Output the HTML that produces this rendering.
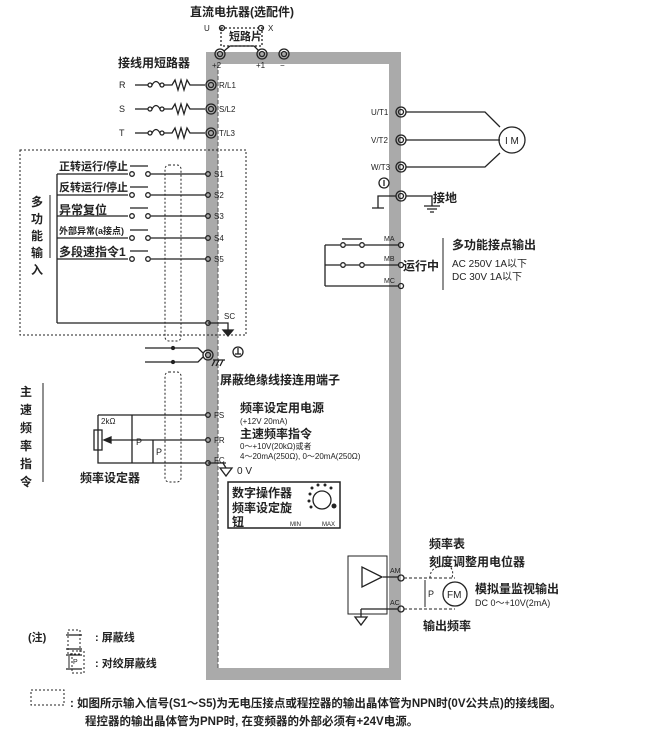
<!DOCTYPE html>
<html><head><meta charset="utf-8"><style>
body{margin:0;background:#fff}
svg{display:block}
text{font-family:"Liberation Sans","Noto Sans CJK SC",sans-serif;fill:#222}
.c{font-weight:bold}
</style></head><body>
<svg width="664" height="738" viewBox="0 0 664 738" xmlns="http://www.w3.org/2000/svg">
<g stroke="#222" fill="none" stroke-width="1.3">
<!-- frame -->
<rect x="212" y="58" width="183" height="616" stroke="#aaa" stroke-width="12"/>
<line x1="218" y1="64" x2="218" y2="668" stroke="#555" stroke-width="1" stroke-dasharray="4,2"/>
<!-- top terminals -->
<circle cx="220" cy="54" r="5"/><circle cx="220" cy="54" r="2.5"/>
<circle cx="262" cy="54" r="5"/><circle cx="262" cy="54" r="2.5"/>
<circle cx="284" cy="54" r="5"/><circle cx="284" cy="54" r="2.5"/>
<path d="M224 51 L230 46 L254 46 L259 51"/>
<rect x="221" y="28" width="41" height="18" stroke-dasharray="2,2"/>
<circle cx="222" cy="28" r="2.5"/><circle cx="261" cy="28" r="2.5"/>
<!-- R S T -->
<g id="rl">
<line x1="135" y1="85" x2="148" y2="85"/>
<circle cx="150" cy="85" r="2"/><path d="M152 85 Q156 78 160 85"/><circle cx="162" cy="85" r="2"/>
<path d="M164 85 L172 85 L175 80 L178 90 L181 80 L184 90 L187 80 L190 85 L205 85"/>
</g>
<use href="#rl" y="24"/><use href="#rl" y="48"/>
<circle cx="211" cy="85" r="5"/><circle cx="211" cy="85" r="2.5"/>
<circle cx="211" cy="109" r="5"/><circle cx="211" cy="109" r="2.5"/>
<circle cx="211" cy="133" r="5"/><circle cx="211" cy="133" r="2.5"/>
<!-- dashed input box -->
<rect x="20" y="150" width="226" height="185" stroke-dasharray="2,2" stroke-width="1"/>
<rect x="165" y="165" width="16" height="176" rx="4" stroke-dasharray="2,2" stroke-width="1"/>
<!-- S1..S5 -->
<line x1="57" y1="174" x2="57" y2="323"/>
<g id="sw">
<line x1="57" y1="174" x2="128" y2="174"/><circle cx="132" cy="174" r="2.3"/><circle cx="148" cy="174" r="2.3"/>
<line x1="151" y1="174" x2="206" y2="174"/><line x1="130" y1="166" x2="148" y2="166"/>
<circle cx="208" cy="174" r="2.3"/>
</g>
<use href="#sw" y="21"/><use href="#sw" y="42"/><use href="#sw" y="64"/><use href="#sw" y="85"/>
<line x1="57" y1="323" x2="206" y2="323"/><circle cx="208" cy="323" r="2.3"/>
<path d="M208 323 L228 323 L228 330"/><path d="M223 330 L233 330 L228 336 Z" fill="#222"/>
<line x1="50" y1="195" x2="50" y2="258" stroke-width="1"/>
<!-- shield terminal -->
<circle cx="208" cy="355" r="5"/><circle cx="208" cy="355" r="2.5"/>
<path d="M145 348 L198 348 L203 353 M145 362 L198 362 L203 357"/>
<circle cx="173" cy="348" r="1.5" fill="#222"/><circle cx="173" cy="362" r="1.5" fill="#222"/>
<line x1="213" y1="360" x2="225" y2="360"/><line x1="215" y1="360" x2="212" y2="366"/><line x1="219" y1="360" x2="216" y2="366"/><line x1="223" y1="360" x2="220" y2="366"/>
<circle cx="238" cy="352" r="5"/><line x1="238" y1="348" x2="238" y2="354"/><line x1="235" y1="354" x2="241" y2="354"/>
<!-- shield lower -->
<rect x="165" y="372" width="16" height="110" rx="4" stroke-dasharray="2,2" stroke-width="1"/>
<line x1="43" y1="383" x2="43" y2="482" stroke-width="1"/>
<!-- freq setter -->
<path d="M98 415 L206 415 M98 415 L98 463 L206 463"/>
<rect x="94" y="430" width="8" height="20"/>
<path d="M104 440 L206 440"/><path d="M104 440 L111 437 L111 443 Z" fill="#222"/>
<line x1="132" y1="415" x2="132" y2="463"/><line x1="153" y1="440" x2="153" y2="463"/>
<circle cx="208" cy="415" r="2.3"/><circle cx="208" cy="440" r="2.3"/><circle cx="208" cy="463" r="2.3"/>
<path d="M208 463 L226 463 M220 468 L232 468 L226 476 Z"/>
<line x1="223" y1="463" x2="226" y2="468"/>
<!-- digital operator -->
<rect x="228" y="482" width="112" height="46" stroke-width="1.5"/>
<circle cx="322" cy="500" r="9"/>
<g fill="#222" stroke="none"><circle cx="310" cy="494" r="1.5"/><circle cx="312" cy="488" r="1.5"/><circle cx="318" cy="485" r="1.5"/><circle cx="325" cy="485" r="1.5"/><circle cx="331" cy="488" r="1.5"/><circle cx="309" cy="501" r="1.5"/><circle cx="311" cy="507" r="1.5"/><circle cx="334" cy="506" r="2.5"/></g>
<!-- outputs -->
<circle cx="401" cy="112" r="5"/><circle cx="401" cy="112" r="2.5"/>
<circle cx="401" cy="140" r="5"/><circle cx="401" cy="140" r="2.5"/>
<circle cx="401" cy="167" r="5"/><circle cx="401" cy="167" r="2.5"/>
<circle cx="401" cy="196" r="5"/><circle cx="401" cy="196" r="2.5"/>
<path d="M406 112 L485 112 L500 127 M406 140 L500 140 M406 167 L485 167 L500 153"/>
<circle cx="512" cy="140" r="13"/>
<path d="M406 196 L432 196 L432 206 M424 206 L440 206 M427 209 L437 209 M430 212 L434 212"/>
<path d="M396 196 L378 196 L378 208 M372 208 L384 208"/>
<circle cx="384" cy="183" r="5"/><line x1="384" y1="180" x2="384" y2="186"/>
<!-- MA MB MC -->
<circle cx="401" cy="245" r="2.5"/><circle cx="401" cy="265" r="2.5"/><circle cx="401" cy="286" r="2.5"/>
<path d="M325 245 L340 245 M346 245 L359 245 M365 245 L398 245 M342 239 L362 239"/>
<circle cx="343" cy="245" r="2.3"/><circle cx="362" cy="245" r="2.3"/>
<path d="M325 265 L340 265 M346 265 L359 265 M365 265 L398 265"/>
<circle cx="343" cy="265" r="2.3"/><circle cx="362" cy="265" r="2.3"/>
<path d="M325 286 L398 286 M325 245 L325 286"/>
<line x1="443" y1="238" x2="443" y2="290" stroke-width="1"/>
<!-- AM/AC -->
<rect x="348" y="556" width="39" height="58" stroke-width="1"/>
<path d="M362 567 L362 587 L382 577 Z"/>
<path d="M383 577 L398 577 M361 609 L398 609 M361 609 L361 617 M355 617 L367 617 L361 625 Z"/>
<circle cx="401" cy="578" r="3"/><circle cx="401" cy="609" r="3"/>
<path d="M404 578 L455 578 M404 609 L455 609" stroke-dasharray="3,2" stroke-width="1"/>
<circle cx="455" cy="594" r="12"/>
<path d="M430 578 Q430 566 445 566 Q455 566 452 578" stroke-dasharray="2,2" stroke-width="1"/>
<line x1="425" y1="580" x2="425" y2="607" stroke-width="1"/>
<!-- legend -->
<path d="M66 635 L82 635 M66 649 L82 649" />
<rect x="68" y="630" width="12" height="24" stroke-dasharray="2,2" stroke-width="1"/>
<path d="M66 655 L82 655 M66 669 L82 669"/>
<rect x="72" y="651" width="12" height="22" stroke-dasharray="2,2" stroke-width="1"/>
<line x1="69" y1="656" x2="69" y2="668" stroke-width="1"/>
<rect x="31" y="690" width="33" height="15" stroke-dasharray="2,2" stroke-width="1"/>
</g>
<g font-size="11" class="c">
<text x="190" y="16" font-size="12">直流电抗器(选配件)</text>
<text x="229" y="40" font-size="11">短路片</text>
<text x="118" y="67" font-size="12">接线用短路器</text>
<text x="59" y="170">正转运行/停止</text>
<text x="59" y="191">反转运行/停止</text>
<text x="59" y="214" font-size="12">异常复位</text>
<text x="59" y="234" font-size="9">外部异常(a接点)</text>
<text x="59" y="256" font-size="12">多段速指令1</text>
<text x="31" y="206" font-size="12">多</text><text x="31" y="223" font-size="12">功</text><text x="31" y="240" font-size="12">能</text><text x="31" y="257" font-size="12">输</text><text x="31" y="274" font-size="12">入</text>
<text x="20" y="396" font-size="12">主</text><text x="20" y="414" font-size="12">速</text><text x="20" y="432" font-size="12">频</text><text x="20" y="450" font-size="12">率</text><text x="20" y="468" font-size="12">指</text><text x="20" y="486" font-size="12">令</text>
<text x="80" y="482" font-size="12">频率设定器</text>
<text x="220" y="384" font-size="12">屏蔽绝缘线接连用端子</text>
<text x="240" y="412" font-size="12">频率设定用电源</text>
<text x="240" y="438" font-size="12">主速频率指令</text>
<text x="232" y="497" font-size="12">数字操作器</text>
<text x="232" y="512" font-size="12">频率设定旋</text>
<text x="232" y="526" font-size="12">钮</text>
<text x="433" y="202" font-size="12">接地</text>
<text x="452" y="249" font-size="12">多功能接点输出</text>
<text x="403" y="270" font-size="12">运行中</text>
<text x="429" y="548" font-size="12">频率表</text>
<text x="429" y="566" font-size="12">刻度调整用电位器</text>
<text x="475" y="593" font-size="12">模拟量监视输出</text>
<text x="423" y="630" font-size="12">输出频率</text>
<text x="28" y="641" font-size="11">(注)</text>
<text x="95" y="641" font-size="11">: 屏蔽线</text>
<text x="95" y="667" font-size="11">: 对绞屏蔽线</text>
<text x="70" y="707" font-size="11.5">: 如图所示输入信号(S1～S5)为无电压接点或程控器的输出晶体管为NPN时(0V公共点)的接线图。</text>
<text x="85" y="725" font-size="11.5">程控器的输出晶体管为PNP时, 在变频器的外部必须有+24V电源。</text>
</g>
<g font-size="8">
<text x="204" y="31">U</text><text x="268" y="31">X</text>
<text x="212" y="68">+2</text><text x="256" y="68">+1</text><text x="280" y="68">−</text>
<text x="119" y="88" font-size="9">R</text><text x="119" y="112" font-size="9">S</text><text x="119" y="136" font-size="9">T</text>
<text x="219" y="88">R/L1</text><text x="219" y="112">S/L2</text><text x="219" y="136">T/L3</text>
<text x="214" y="177">S1</text><text x="214" y="198">S2</text><text x="214" y="219">S3</text><text x="214" y="241">S4</text><text x="214" y="262">S5</text>
<text x="224" y="319">SC</text>
<text x="214" y="418">FS</text><text x="214" y="443">FR</text><text x="214" y="463">FC</text>
<text x="237" y="474" font-size="10">0 V</text>
<text x="101" y="424">2kΩ</text>
<text x="136" y="445" font-size="9">P</text><text x="156" y="455" font-size="9">P</text>
<text x="240" y="424">(+12V 20mA)</text>
<text x="240" y="449">0～+10V(20kΩ)或者</text>
<text x="240" y="459">4～20mA(250Ω), 0～20mA(250Ω)</text>
<text x="290" y="526" font-size="6">MIN</text><text x="322" y="526" font-size="6">MAX</text>
<text x="371" y="115">U/T1</text><text x="371" y="143">V/T2</text><text x="371" y="170">W/T3</text>
<text x="505" y="144" font-size="10">I M</text>
<text x="384" y="241" font-size="7">MA</text><text x="384" y="261" font-size="7">MB</text><text x="384" y="283" font-size="7">MC</text>
<text x="452" y="267" font-size="10">AC 250V  1A以下</text>
<text x="452" y="280" font-size="10">DC 30V   1A以下</text>
<text x="390" y="573" font-size="7">AM</text><text x="390" y="605" font-size="7">AC</text>
<text x="428" y="597" font-size="9">P</text>
<text x="447" y="598" font-size="10">FM</text>
<text x="475" y="606" font-size="9">DC 0～+10V(2mA)</text>
<text x="73" y="664" font-size="7">P</text>
</g>
</svg>
</body></html>
